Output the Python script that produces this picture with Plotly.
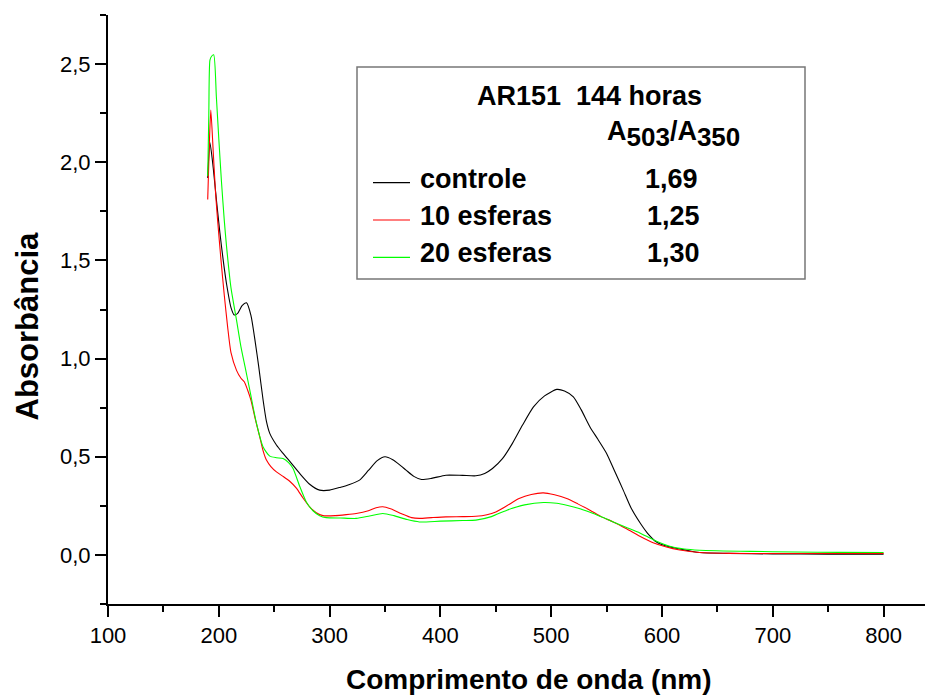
import plotly.graph_objects as go

# ---------------- data ----------------
ctrl_nm = [190, 192, 195, 198, 201, 204, 207, 211, 214, 217, 221, 225, 229, 233, 236, 240, 243, 246,
           252, 258, 265, 273, 282, 291, 300, 310, 318, 327, 335, 343, 350, 357, 363, 369, 376, 383,
           392, 405, 420, 432, 440, 447, 456, 465, 474, 484, 494, 505, 512, 520, 527, 535, 542, 550,
           557, 565, 572, 580, 587, 595, 604, 616, 634, 660, 700, 750, 800]
ctrl_abs = [1.92, 2.10, 1.97, 1.80, 1.64, 1.50, 1.38, 1.26, 1.222, 1.23, 1.27, 1.284, 1.22, 1.08, 0.96,
            0.788, 0.68, 0.619, 0.56, 0.517, 0.47, 0.415, 0.36, 0.33, 0.33, 0.345, 0.359, 0.381, 0.43,
            0.48, 0.50, 0.485, 0.46, 0.432, 0.40, 0.384, 0.39, 0.406, 0.405, 0.403, 0.415, 0.44, 0.49,
            0.568, 0.66, 0.754, 0.81, 0.843, 0.835, 0.805, 0.74, 0.652, 0.59, 0.517, 0.43, 0.33, 0.24,
            0.165, 0.11, 0.066, 0.045, 0.03, 0.012, 0.008, 0.005, 0.004, 0.004]

e10_nm = [190, 191.5, 192.8, 195, 197, 199, 202, 205, 208, 211, 216, 220, 223, 226, 229, 233, 237, 240,
          243, 247, 252, 258, 264, 270, 276, 282, 288, 294, 305, 315, 324, 335, 342, 348, 355, 365, 374,
          381, 392, 405, 420, 432, 442, 450, 460, 471, 482, 493, 503, 514, 524, 535, 545, 556, 568, 580,
          592, 604, 616, 634, 660, 700, 750, 800]
e10_abs = [1.81, 2.10, 2.266, 2.05, 1.85, 1.70, 1.50, 1.32, 1.16, 1.03, 0.94, 0.90, 0.882, 0.84, 0.788,
           0.69, 0.60, 0.53, 0.483, 0.45, 0.423, 0.40, 0.375, 0.34, 0.29, 0.245, 0.215, 0.20, 0.20, 0.205,
           0.211, 0.225, 0.24, 0.245, 0.235, 0.21, 0.19, 0.186, 0.19, 0.194, 0.195, 0.197, 0.205, 0.219,
           0.25, 0.287, 0.308, 0.316, 0.306, 0.287, 0.26, 0.228, 0.195, 0.168, 0.133, 0.095, 0.062, 0.04,
           0.025, 0.012, 0.008, 0.007, 0.007, 0.007]

e20_nm = [190, 191, 192, 193.5, 195.4, 197.8, 200, 202.3, 205, 207, 211, 216, 220, 224, 228, 234, 240,
          246, 252, 258, 263, 267, 273, 279, 285, 291, 297, 310, 324, 336, 348, 358, 370, 381, 400, 420,
          432, 446, 460, 476, 493, 505, 514, 526, 538, 547, 556, 568, 580, 593, 607, 620, 634, 680, 720,
          760, 800]
e20_abs = [1.93, 2.25, 2.52, 2.54, 2.547, 2.334, 2.12, 1.91, 1.70, 1.57, 1.36, 1.196, 1.06, 0.95, 0.839,
           0.67, 0.55, 0.503, 0.495, 0.491, 0.47, 0.44, 0.35, 0.27, 0.225, 0.20, 0.19, 0.188, 0.186, 0.198,
           0.211, 0.20, 0.18, 0.168, 0.172, 0.175, 0.177, 0.195, 0.228, 0.255, 0.267, 0.263, 0.253, 0.235,
           0.211, 0.19, 0.168, 0.14, 0.112, 0.075, 0.044, 0.03, 0.024, 0.018, 0.015, 0.013, 0.012]

series_names = ["controle", "10 esferas", "20 esferas"]
series_colors = ["#000000", "#ff0000", "#00ff00"]
ratio_labels = ["1,69", "1,25", "1,30"]
box_title = "AR151  144 horas"

# ---------------- layout geometry ----------------
# the page body has an 8px margin, so the figure is drawn offset by (8, 8)
OFF = 8
W, H = 933, 697
SCR_L, SCR_R, SCR_T, SCR_B = 108, 933, 15, 604   # plot area on screen
ML = SCR_L - OFF
MT = SCR_T - OFF
MR = W - (SCR_R - OFF)
MB = H - (SCR_B - OFF)
PW, PH = W - ML - MR, H - MT - MB
FONT = "Liberation Sans, Arial, sans-serif"


def px(x):
    return (x - SCR_L) / (SCR_R - SCR_L)


def py(y):
    return (SCR_B - y) / (SCR_B - SCR_T)


fig = go.Figure()
for xs, ys, nm, col in zip([ctrl_nm, e10_nm, e20_nm], [ctrl_abs, e10_abs, e20_abs],
                           series_names, series_colors):
    fig.add_trace(go.Scatter(x=xs, y=ys, mode="lines", name=nm,
                             line=dict(color=col, width=1.1, shape="spline", smoothing=0.6),
                             showlegend=False))

shapes = [dict(type="rect", xref="paper", yref="paper", x0=px(357), x1=px(805), y0=py(279), y1=py(67),
               line=dict(color="#777777", width=1.5), fillcolor="white", layer="below")]
annotations = [
    dict(text="<b>" + box_title + "</b>", x=px(589), y=py(96), xref="paper", yref="paper",
         showarrow=False, xanchor="center", yanchor="middle", font=dict(size=27, family=FONT, color="black")),
    dict(text="<b>A<sub><span style='font-size:26px'>503</span></sub>/A<sub><span style='font-size:26px'>350</span></sub></b>",
         x=px(605), y=py(134), xref="paper", yref="paper", showarrow=False, xanchor="left", yanchor="middle",
         font=dict(size=27, family=FONT, color="black")),
]
row_y = [182.7, 220, 257.3]
row_val_x = [671, 673.5, 673.5]
for i, (nm, col, val) in enumerate(zip(series_names, series_colors, ratio_labels)):
    shapes.append(dict(type="line", xref="paper", yref="paper", x0=px(373), x1=px(410),
                       y0=py(row_y[i]), y1=py(row_y[i]), line=dict(color=col, width=1.2)))
    annotations.append(dict(text="<b>" + nm + "</b>", x=px(418), y=py(row_y[i] - 4), xref="paper",
                            yref="paper", showarrow=False, xanchor="left", yanchor="middle",
                            font=dict(size=27, family=FONT, color="black")))
    annotations.append(dict(text="<b>" + val + "</b>", x=px(row_val_x[i]), y=py(row_y[i] - 4),
                            xref="paper", yref="paper", showarrow=False, xanchor="center",
                            yanchor="middle", font=dict(size=27, family=FONT, color="black")))

# axis titles
annotations.append(dict(text="<b>Comprimento de onda (nm)</b>", x=px(529), y=py(679), xref="paper",
                        yref="paper", showarrow=False, xanchor="center", yanchor="middle",
                        font=dict(size=28, family=FONT, color="black")))
annotations.append(dict(text="<b>Absorbância</b>", x=px(27), y=py(326.5), xref="paper", yref="paper",
                        showarrow=False, xanchor="center", yanchor="middle", textangle=-90,
                        font=dict(size=31, family=FONT, color="black")))

axis_common = dict(showgrid=False, zeroline=False, showline=True, linecolor="black", linewidth=2,
                   ticks="outside", ticklen=11, tickwidth=2, tickcolor="black",
                   tickfont=dict(size=22, family=FONT, color="black"))
fig.update_layout(
    width=W, height=H, margin=dict(l=ML, r=MR, t=MT, b=MB),
    paper_bgcolor="white", plot_bgcolor="white", separators=",.",
    xaxis=dict(range=[100, 100 + (SCR_R - SCR_L) / 1.108], tick0=100, dtick=100, tickformat="d",
               minor=dict(dtick=50, ticklen=6, tickwidth=2, tickcolor="black", ticks="outside"),
               **axis_common),
    yaxis=dict(range=[-0.25, 2.75], tick0=0, dtick=0.5, tickformat=".1f",
               minor=dict(dtick=0.25, ticklen=6, tickwidth=2, tickcolor="black", ticks="outside"),
               **axis_common),
    shapes=shapes, annotations=annotations, showlegend=False,
)
fig.write_html("out.html")
